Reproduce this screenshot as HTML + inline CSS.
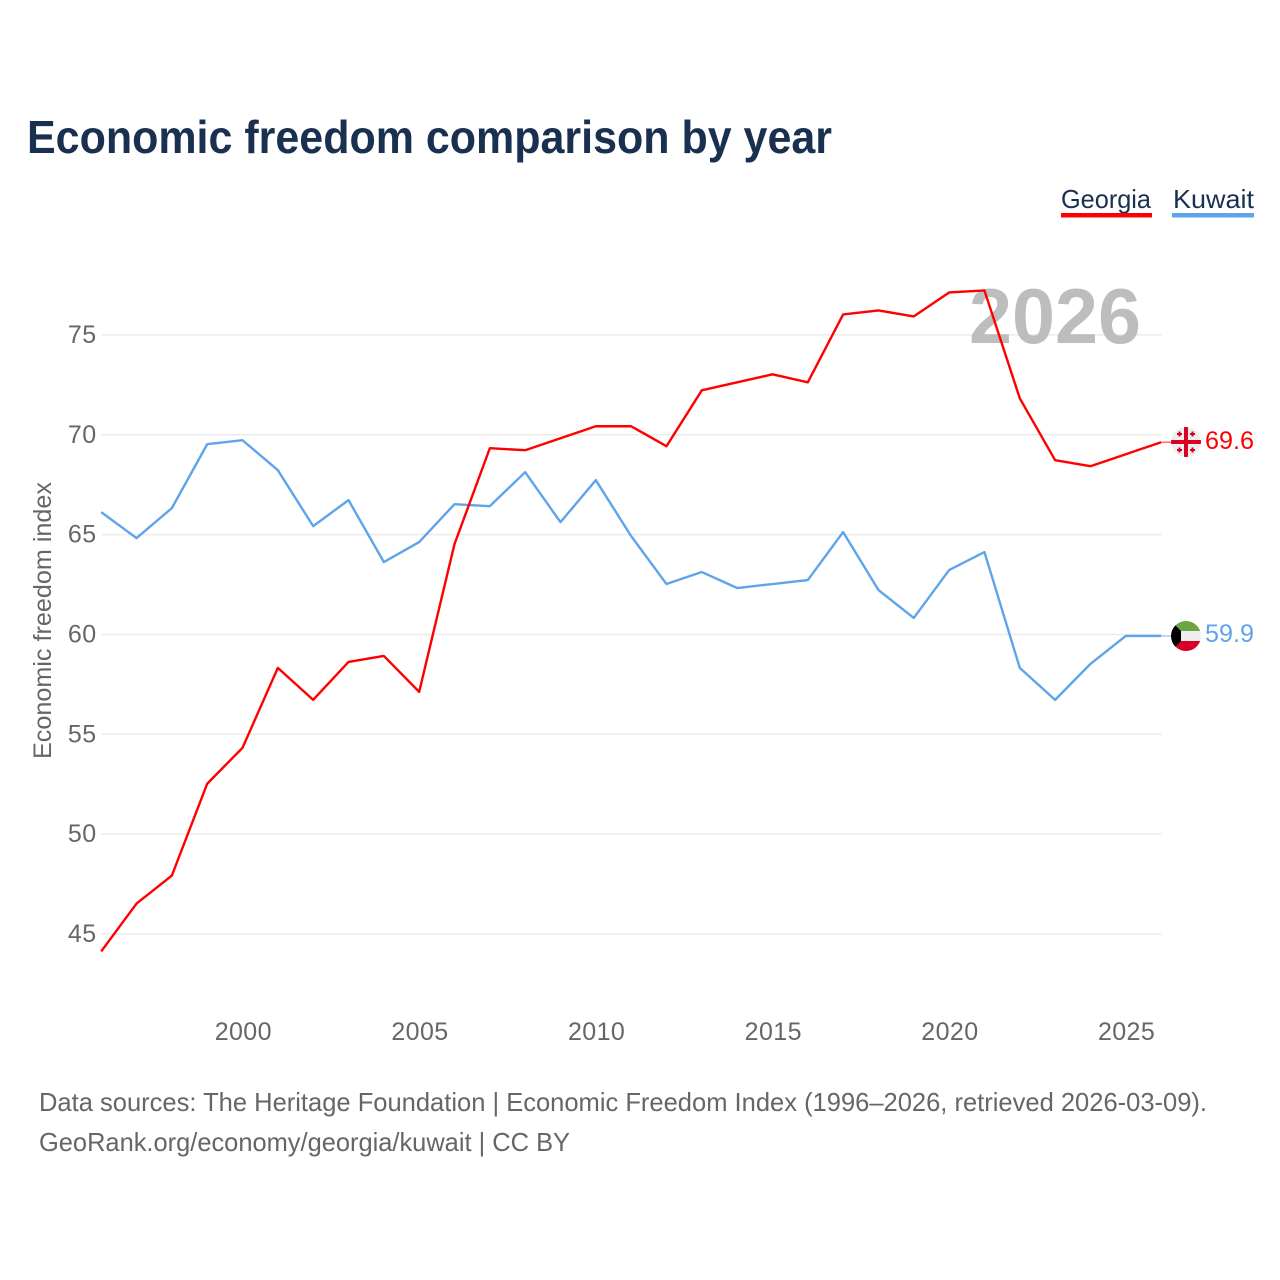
<!DOCTYPE html>
<html>
<head>
<meta charset="utf-8">
<title>Economic freedom comparison by year</title>
<style>
html,body{margin:0;padding:0;background:#fff;width:1280px;height:1280px;overflow:hidden}
svg{display:block}
text{font-family:"Liberation Sans",sans-serif}
</style>
</head>
<body>
<svg id="chart" xmlns="http://www.w3.org/2000/svg" width="1280" height="1280" viewBox="0 0 1280 1280">
  <defs>
    <clipPath id="clip-georgia"><circle cx="1186" cy="442" r="15"/></clipPath>
    <clipPath id="clip-kuwait"><circle cx="1186" cy="636" r="15"/></clipPath>
  </defs>
  <text x="27" y="153" font-size="46" font-weight="700" fill="#1a3050" textLength="805" lengthAdjust="spacingAndGlyphs">Economic freedom comparison by year</text>

  <g id="grid"></g>
  <text x="969" y="343" font-size="78" font-weight="700" fill="#bdbdbd" textLength="172" lengthAdjust="spacingAndGlyphs">2026</text>
  <g id="yticks"></g>
  <g id="xticks"></g>
  <text transform="translate(51,759) rotate(-90)" font-size="25" fill="#666666" textLength="277" lengthAdjust="spacingAndGlyphs">Economic freedom index</text>

  <g id="series" transform="translate(-0.3,-0.5)"></g>

  <g>
    <text x="1061" y="208" font-size="26" fill="#1a3050" textLength="90" lengthAdjust="spacingAndGlyphs">Georgia</text>
    <rect x="1061" y="213" width="91" height="4.5" fill="#ff0000"/>
  </g>
  <g>
    <text x="1173" y="208" font-size="26" fill="#1a3050" textLength="81" lengthAdjust="spacingAndGlyphs">Kuwait</text>
    <rect x="1172" y="213" width="82" height="4.5" fill="#5fa4ea"/>
  </g>

  <g clip-path="url(#clip-georgia)">
    <rect x="1171" y="427" width="30" height="30" fill="#eeeeee"/>
    <rect x="1171" y="440" width="30" height="4" fill="#d80027"/>
    <rect x="1184" y="427" width="4" height="30" fill="#d80027"/>
    <path d="M1178.5 431.5h2v1.5h1.5v2h-1.5v1.5h-2v-1.5h-1.5v-2h1.5zM1191.5 431.5h2v1.5h1.5v2h-1.5v1.5h-2v-1.5h-1.5v-2h1.5zM1178.5 447.5h2v1.5h1.5v2h-1.5v1.5h-2v-1.5h-1.5v-2h1.5zM1191.5 447.5h2v1.5h1.5v2h-1.5v1.5h-2v-1.5h-1.5v-2h1.5z" fill="#d80027"/>
  </g>
  <g clip-path="url(#clip-kuwait)">
    <rect x="1171" y="621" width="30" height="10" fill="#6da544"/>
    <rect x="1171" y="631" width="30" height="10.5" fill="#eeeeee"/>
    <rect x="1171" y="641" width="30" height="10" fill="#d80027"/>
    <path d="M1171 621L1181 631V641L1171 651Z" fill="#000000"/>
  </g>

  <text id="label-georgia" x="1205" y="449" font-size="25" fill="#ff0000" textLength="49" lengthAdjust="spacingAndGlyphs"></text>
  <text id="label-kuwait" x="1205" y="642" font-size="25" fill="#5fa4ea" textLength="49" lengthAdjust="spacingAndGlyphs"></text>

  <text x="39" y="1111" font-size="26" fill="#666666" textLength="1168" lengthAdjust="spacingAndGlyphs">Data sources: The Heritage Foundation | Economic Freedom Index (1996–2026, retrieved 2026-03-09).</text>
  <text x="39" y="1151" font-size="26" fill="#666666" textLength="531" lengthAdjust="spacingAndGlyphs">GeoRank.org/economy/georgia/kuwait | CC BY</text>
</svg>
<script>
const startYear = 1996;
const georgiaValues = [44.1,46.5,47.9,52.5,54.3,58.3,56.7,58.6,58.9,57.1,64.5,69.3,69.2,69.8,70.4,70.4,69.4,72.2,72.6,73.0,72.6,76.0,76.2,75.9,77.1,77.2,71.8,68.7,68.4,69.0,69.6];
const kuwaitValues = [66.1,64.8,66.3,69.5,69.7,68.2,65.4,66.7,63.6,64.6,66.5,66.4,68.1,65.6,67.7,64.9,62.5,63.1,62.3,62.5,62.7,65.1,62.2,60.8,63.2,64.1,58.3,56.7,58.5,59.9,59.9];
const yTickValues = [45,50,55,60,65,70,75];
const xTickValues = [2000,2005,2010,2015,2020,2025];

const NS = 'http://www.w3.org/2000/svg';
function xScale(year){ return 101.5 + (year - 1996) * 35.33; }
function yScale(v){ return 934 - (v - 45) * 19.97; }
function make(tag, parent, attrs, content){
  const el = document.createElementNS(NS, tag);
  for (const k in attrs) el.setAttribute(k, attrs[k]);
  if (content !== undefined) el.textContent = content;
  parent.appendChild(el);
  return el;
}
const grid = document.getElementById('grid');
const yticks = document.getElementById('yticks');
const xticks = document.getElementById('xticks');
const seriesGroup = document.getElementById('series');

yTickValues.forEach(function(v){
  const line = make('line', grid, {x1:101.5, x2:xScale(2026), y1:yScale(v), y2:yScale(v), stroke:'#ebebeb', 'stroke-width':1.5});
  
  
  const label = make('text', yticks, {x:96.5, y:yScale(v)+8, 'text-anchor':'end', 'font-size':25, 'letter-spacing':'0.4', fill:'#666666'}, String(v));
  
  
});
xTickValues.forEach(function(y){
  const label = make('text', xticks, {x:xScale(y)+0.5, y:1040, 'text-anchor':'middle', 'font-size':25, 'letter-spacing':'0.4', fill:'#666666'}, String(y));
  
  
});
function drawSeries(values, color){
  const pts = values.map(function(v, i){ return xScale(startYear + i).toFixed(2) + ',' + yScale(v).toFixed(2); }).join(' ');
  return make('polyline', seriesGroup, {points:pts, fill:'none', stroke:color, 'stroke-width':2.4, 'stroke-linejoin':'round'});
}
function drawConnector(values, color){
  const last = values[values.length - 1];
  const yEnd = yScale(last);
  const xEnd = xScale(startYear + values.length - 1);
  return make('line', seriesGroup, {x1:xEnd, x2:xEnd + 11, y1:yEnd, y2:yEnd, stroke:color, 'stroke-width':1.4, opacity:0.6});
}
const kuwaitLine = drawSeries(kuwaitValues, '#5fa4ea');


const georgiaLine = drawSeries(georgiaValues, '#ff0000');


const kuwaitConnector = drawConnector(kuwaitValues, '#5fa4ea');


const georgiaConnector = drawConnector(georgiaValues, '#ff0000');



document.getElementById('label-georgia').textContent = georgiaValues[georgiaValues.length - 1].toFixed(1);
document.getElementById('label-kuwait').textContent = kuwaitValues[kuwaitValues.length - 1].toFixed(1);
</script>
</body>
</html>
